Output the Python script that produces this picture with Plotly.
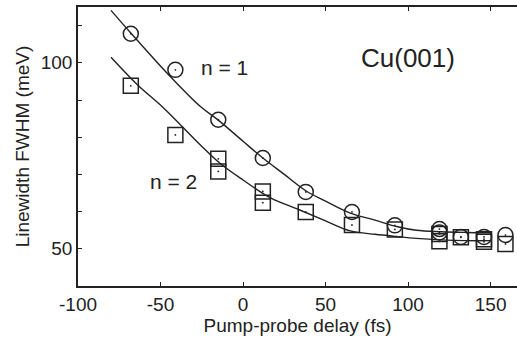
import plotly.graph_objects as go

n1_x = [-68, -41, -15, 12, 38, 66, 92, 119, 119, 132, 146, 159]
n1_y = [107.8, 98.1, 84.7, 74.4, 65.3, 59.9, 56.3, 55.3, 54.4, 53.2, 53.2, 53.7]

n2_x = [-68, -41, -15, -15, 12, 12, 38, 66, 92, 119, 119, 132, 146, 146, 159]
n2_y = [93.8, 80.6, 74.2, 70.8, 65.4, 62.4, 59.9, 56.4, 55.2, 54.0, 52.0, 53.1, 52.6, 51.9, 51.3]

# Fit curves
fit1_x = [-80, -68, -46, -26, -15, 0, 12, 25, 38, 50, 65, 80, 93, 105, 120, 135, 150]
fit1_y = [114.1, 108.0, 97.2, 88.3, 84.6, 78.9, 74.4, 70.0, 65.6, 62.8, 59.6, 57.7, 56.0, 55.0, 54.6, 54.4, 54.3]

fit2_x = [-80, -64, -48, -26, -14, 0, 17, 34, 50, 65, 80, 93, 105, 120, 135, 150]
fit2_y = [101.5, 94.1, 87.8, 78.0, 73.0, 68.5, 63.6, 60.5, 57.5, 54.8, 53.9, 53.3, 52.8, 52.4, 52.2, 52.2]

x_ticks = [-100, -50, 0, 50, 100, 150]
x_ticktext = ["-100", "-50", "0", "50", "100", "150"]
y_ticks = [50, 60, 70, 80, 90, 100, 110]
y_ticktext = ["50", "", "", "", "", "100", ""]

ink = "#222222"
font = "Liberation Sans, Arial, sans-serif"

fig = go.Figure()
fig.add_trace(go.Scatter(x=fit1_x, y=fit1_y, mode="lines", line=dict(color=ink, width=1.4, shape="spline"), showlegend=False))
fig.add_trace(go.Scatter(x=fit2_x, y=fit2_y, mode="lines", line=dict(color=ink, width=1.4, shape="spline"), showlegend=False))
fig.add_trace(go.Scatter(x=n1_x, y=n1_y, mode="markers",
                         marker=dict(symbol="circle-open", size=15, color=ink, line=dict(color=ink, width=1.5)),
                         showlegend=False))
fig.add_trace(go.Scatter(x=n2_x, y=n2_y, mode="markers",
                         marker=dict(symbol="square-open", size=15, color=ink, line=dict(color=ink, width=1.5)),
                         showlegend=False))
# tiny centre dots of the markers
fig.add_trace(go.Scatter(x=n1_x + n2_x, y=n1_y + n2_y, mode="markers",
                         marker=dict(symbol="circle", size=1.8, color=ink, line=dict(width=0)),
                         showlegend=False))

fig.add_annotation(x=-11.5, y=98.8, text="n = 1", showarrow=False, font=dict(family=font, size=21, color=ink))
fig.add_annotation(x=-42, y=68.1, text="n = 2", showarrow=False, font=dict(family=font, size=21, color=ink))
fig.add_annotation(x=99.7, y=101.3, text="Cu(001)", showarrow=False, font=dict(family=font, size=26, color=ink))

fig.update_layout(
    width=517, height=341,
    margin=dict(l=78, r=0, t=7, b=55),
    paper_bgcolor="white", plot_bgcolor="white",
    font=dict(family=font, color=ink, size=19),
)
fig.update_xaxes(
    range=[-100, 166], tickvals=x_ticks, ticktext=x_ticktext, ticks="inside", ticklen=4, tickwidth=1.2, tickcolor=ink,
    showline=True, linecolor=ink, linewidth=1.5, mirror="ticks", showgrid=False, zeroline=False,
    tickfont=dict(size=19), title=dict(text="Pump-probe delay (fs)", font=dict(size=19), standoff=4),
)
fig.update_yaxes(
    range=[40, 115], tickvals=y_ticks, ticktext=y_ticktext, ticks="inside", ticklen=4, tickwidth=1.2, tickcolor=ink,
    showline=True, linecolor=ink, linewidth=1.5, mirror=False, showgrid=False, zeroline=False,
    tickfont=dict(size=19), title=dict(text="Linewidth FWHM (meV)", font=dict(size=19), standoff=6),
)

fig.write_html("out.html")
